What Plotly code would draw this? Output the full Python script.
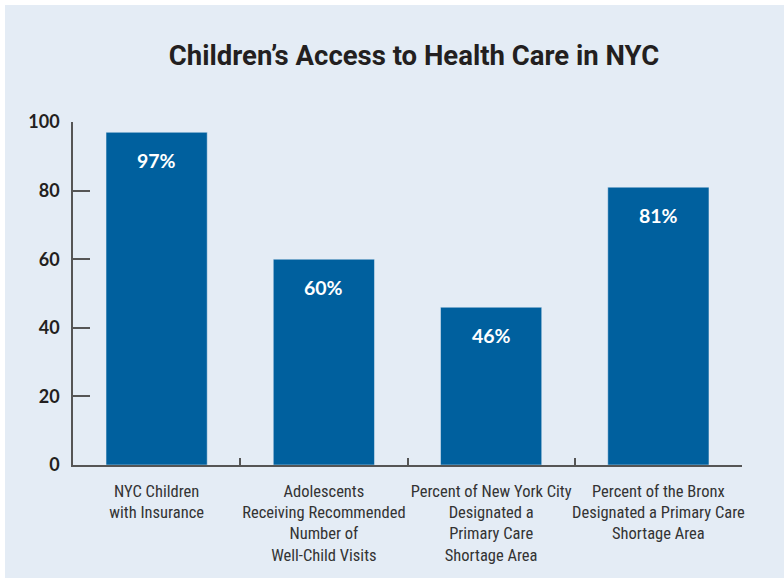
import plotly.graph_objects as go

categories = [
    "NYC Children<br>with Insurance",
    "Adolescents<br>Receiving Recommended<br>Number of<br>Well-Child Visits",
    "Percent of New York City<br>Designated a<br>Primary Care<br>Shortage Area",
    "Percent of the Bronx<br>Designated a Primary Care<br>Shortage Area",
]
values = [97, 60, 46, 81]
value_labels = ["97%", "60%", "46%", "81%"]
y_ticks = [0, 20, 40, 60, 80, 100]

BAR = "#00609e"
BG = "#e4ecf5"
AXIS = "#555555"

W, H = 784, 582
L, R, T, B = 73, 42, 122, 117
pw, ph = W - L - R, H - T - B

fig = go.Figure()
fig.add_trace(go.Bar(
    x=categories, y=values, marker_color=BAR, width=0.605,
    hoverinfo="skip",
))

for c, v, t in zip(categories, values, value_labels):
    fig.add_annotation(
        x=c, y=v, text=t, showarrow=False, yshift=-28,
        font=dict(family="Lato, Open Sans, sans-serif", size=19.5, color="white", weight="bold"),
    )

fig.add_shape(
    type="rect", xref="paper", yref="paper", layer="below",
    x0=(5 - L) / pw, x1=(W - L) / pw,
    y0=(H - B - 578) / ph, y1=(H - B - 5) / ph,
    fillcolor=BG, line_width=0,
)

fig.update_layout(
    width=W, height=H,
    margin=dict(l=L, r=R, t=T, b=B, pad=0, autoexpand=False),
    paper_bgcolor="white", plot_bgcolor="rgba(0,0,0,0)",
    showlegend=False,
    bargap=0.395,
    title=dict(
        text="Children’s Access to Health Care in NYC",
        x=(414) / W, xanchor="center", y=1 - 55 / H, yanchor="middle",
        font=dict(family="Roboto, Liberation Sans, sans-serif",
                  size=27.5, color="#231f20", weight="bold"),
    ),
    xaxis=dict(
        showline=True, linecolor=AXIS, linewidth=1.5,
        ticks="inside", ticklen=7, tickcolor=AXIS, tickwidth=1.5,
        tickson="boundaries", showgrid=False, tickangle=0, automargin=False,
        tickfont=dict(family="Roboto Condensed, Liberation Sans Narrow, Arial Narrow, sans-serif",
                      size=16.5, color="#333333"),
        ticklabelstandoff=10,
    ),
    yaxis=dict(
        range=[0, 100], tickvals=y_ticks, automargin=False,
        showline=True, linecolor=AXIS, linewidth=1.5,
        ticks="inside", ticklen=17, tickcolor=AXIS, tickwidth=1.5,
        showgrid=False, zeroline=False,
        tickfont=dict(family="Lato, Open Sans, sans-serif", size=18, color="#231f20", weight="bold"),
        ticklabelstandoff=8,
    ),
)

fig.write_html("out.html")
